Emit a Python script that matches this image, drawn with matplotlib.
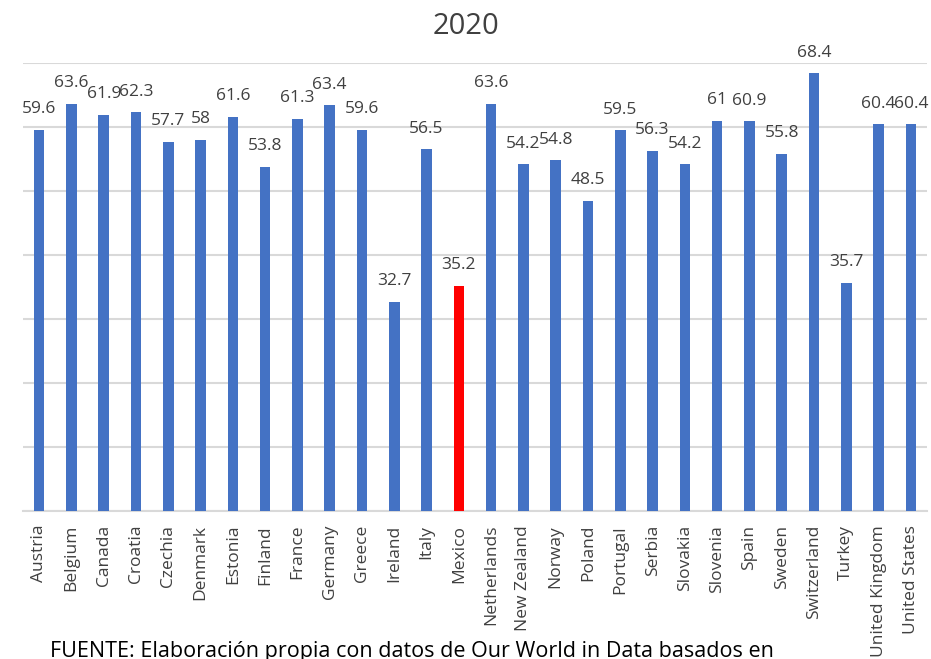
import matplotlib
matplotlib.use("Agg")
from matplotlib import pyplot as plt
import numpy as np

plt.rcParams['font.family'] = ['Open Sans', 'DejaVu Sans']

countries = ["Austria", "Belgium", "Canada", "Croatia", "Czechia", "Denmark", "Estonia",
             "Finland", "France", "Germany", "Greece", "Ireland", "Italy", "Mexico",
             "Netherlands", "New Zealand", "Norway", "Poland", "Portugal", "Serbia",
             "Slovakia", "Slovenia", "Spain", "Sweden", "Switzerland", "Turkey",
             "United Kingdom", "United States"]
values = [59.6, 63.6, 61.9, 62.3, 57.7, 58, 61.6,
          53.8, 61.3, 63.4, 59.6, 32.7, 56.5, 35.2,
          63.6, 54.2, 54.8, 48.5, 59.5, 56.3,
          54.2, 61, 60.9, 55.8, 68.4, 35.7,
          60.4, 60.4]
highlight = "Mexico"

fig = plt.figure(figsize=(9.31, 6.59), dpi=100)
ax = fig.add_axes([23/931, 1 - 511/659, 904/931, 448/659])

x = np.arange(len(countries))
colors = ["#FF0000" if c == highlight else "#4472C4" for c in countries]
ax.bar(x, values, width=0.33, color=colors, zorder=3)

for xi, v in zip(x, values):
  label = ("%g" % v)
  ax.annotate(label, (xi, v), xytext=(0, 9), textcoords="offset points",
              ha="center", va="bottom", fontsize=12.5, color="#404040")

ax.set_xlim(-0.5, len(countries) - 0.5)
ax.set_ylim(0, 70)
ax.set_yticks(np.arange(0, 71, 10))
ax.yaxis.grid(True, color="#D9D9D9", linewidth=1.5, zorder=0)
ax.tick_params(axis="y", left=False, labelleft=False)
ax.tick_params(axis="x", length=0, pad=10)
ax.set_xticks(x)
ax.set_xticklabels(countries, rotation=90, fontsize=12.5, color="#404040")
for s in ["top", "right", "left"]:
  ax.spines[s].set_visible(False)
ax.spines["bottom"].set_color("#D9D9D9")
ax.spines["bottom"].set_linewidth(1.5)

fig.text(0.5, 1 - 27/659, "2020", ha="center", va="center", fontsize=21, color="#404040")
fig.text(50/931, 1 - 652/659, "FUENTE: Elaboración propia con datos de Our World in Data basados en",
         ha="left", va="center", fontsize=15.5, color="black")

fig.savefig("out.png", dpi=100)
